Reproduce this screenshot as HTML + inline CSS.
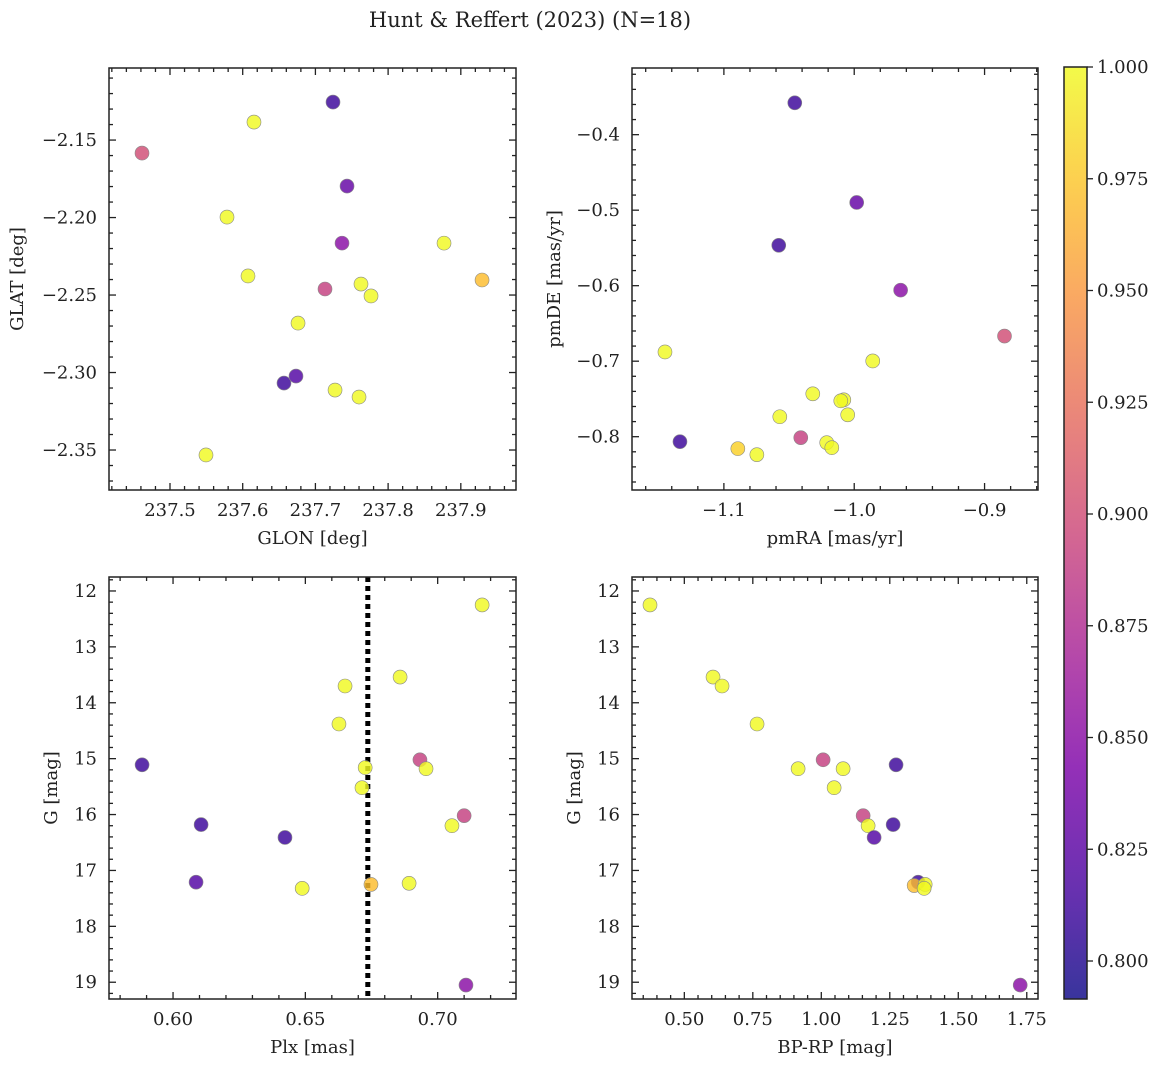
<!DOCTYPE html>
<html><head><meta charset="utf-8"><style>
body{margin:0;background:#fff;}
svg text{font-family:"DejaVu Serif","Liberation Serif",serif;fill:#222;}
</style></head><body>
<svg id="fig" width="1161" height="1067" xmlns="http://www.w3.org/2000/svg">
<text x="530" y="27" font-size="21" text-anchor="middle">Hunt &amp; Reffert (2023) (N=18)</text>
</svg>
<script>
// Panel data
const glon = [237.4615,237.6155,237.7242,237.5784,237.7435,237.7366,237.6073,237.7132,237.7627,237.7765,237.8769,237.9292,237.6761,237.6568,237.6733,237.7270,237.7600,237.5495];
const glat = [-2.1584,-2.1384,-2.1255,-2.1997,-2.1797,-2.2165,-2.2377,-2.2461,-2.2429,-2.2506,-2.2165,-2.2403,-2.2681,-2.3068,-2.3023,-2.3113,-2.3158,-2.3532];
const probA = [0.90,1.0,0.81,1.0,0.83,0.85,1.0,0.89,1.0,1.0,1.0,0.97,1.0,0.81,0.82,1.0,1.0,1.0];

const pmra = [-1.0456,-0.9981,-1.0579,-0.9644,-0.8847,-1.1452,-0.9858,-1.0318,-1.0080,-1.0103,-1.0050,-1.0571,-1.0410,-1.0211,-1.0172,-1.1337,-1.0893,-1.0747];
const pmde = [-0.3578,-0.4898,-0.5465,-0.6059,-0.6667,-0.6878,-0.6997,-0.7432,-0.7512,-0.7525,-0.7710,-0.7736,-0.8013,-0.8079,-0.8145,-0.8066,-0.8158,-0.8238];
const probB = [0.81,0.83,0.81,0.85,0.90,1.0,1.0,1.0,1.0,1.0,1.0,1.0,0.89,1.0,1.0,0.81,0.98,1.0];

const plx = [0.7168,0.6858,0.6650,0.6627,0.5883,0.6933,0.6726,0.6956,0.6714,0.7100,0.7054,0.6106,0.6423,0.6087,0.6488,0.6748,0.6892,0.7107];
const gmagC = [12.25,13.54,13.70,14.38,15.11,15.02,15.16,15.18,15.52,16.02,16.20,16.18,16.41,17.21,17.32,17.25,17.23,19.05];
const probC = [1.0,1.0,1.0,1.0,0.81,0.89,1.0,1.0,1.0,0.89,1.0,0.81,0.81,0.82,1.0,0.97,1.0,0.85];
const plxRef = [0.6736];

const bprp = [0.3747,0.6048,0.6377,0.7655,1.2729,1.0066,0.9153,1.0796,1.0468,1.1527,1.1709,1.2622,1.1928,1.3535,1.3389,1.3791,1.3754,1.7260];
const gmagD = [12.25,13.54,13.70,14.38,15.11,15.02,15.18,15.18,15.52,16.02,16.20,16.18,16.41,17.21,17.27,17.25,17.32,19.05];
const probD = [1.0,1.0,1.0,1.0,0.81,0.89,1.0,1.0,1.0,0.89,1.0,0.81,0.82,0.81,0.97,1.0,1.0,0.85];

const cbTicks = [0.800,0.825,0.850,0.875,0.900,0.925,0.950,0.975,1.000];
const VMIN=0.7915, VMAX=1.0;

const NS="http://www.w3.org/2000/svg";
const svg=document.getElementById('fig');
function el(tag,attrs,parent){const e=document.createElementNS(NS,tag);for(const k in attrs)e.setAttribute(k,attrs[k]);(parent||svg).appendChild(e);return e;}

const stops=[[0,[13,8,135]],[0.125,[75,3,161]],[0.25,[125,3,168]],[0.375,[168,34,150]],[0.5,[203,70,121]],[0.625,[229,107,93]],[0.75,[248,148,65]],[0.875,[253,195,40]],[1,[240,249,33]]];
function plasma(t){t=Math.max(0,Math.min(1,t));for(let i=1;i<stops.length;i++){if(t<=stops[i][0]){const a=stops[i-1],b=stops[i];const f=(t-a[0])/(b[0]-a[0]);const c=a[1].map((v,j)=>Math.round(v+(b[1][j]-v)*f));return `rgb(${c[0]},${c[1]},${c[2]})`;}}return 'rgb(240,249,33)';}

function fmt(v,d){let s=v.toFixed(d);if(s.startsWith('-0')&&Number(s)===0)s=s.slice(1);return s.replace('-','\u2212');}

function panel(o){
  const g=el('g',{});
  
  
  const sx=v=>o.x0+(v-o.xmin)/(o.xmax-o.xmin)*(o.x1-o.x0);
  const sy=v=>o.y1-(v-o.ymin)/(o.ymax-o.ymin)*(o.y1-o.y0);
  const tk=el('g',{stroke:'#222','stroke-width':1.3},g);
  
  
  const eps=1e-9;
  const xlo=Math.min(o.xmin,o.xmax),xhi=Math.max(o.xmin,o.xmax);
  const ylo=Math.min(o.ymin,o.ymax),yhi=Math.max(o.ymin,o.ymax);
  for(let k=Math.ceil(xlo/o.xminor-eps);k*o.xminor<=xhi+eps;k++){
    const v=k*o.xminor;
    const X=sx(v);const maj=Math.abs(v/o.xmajor-Math.round(v/o.xmajor))<1e-6;const L=maj?7:4;
    el('line',{x1:X,x2:X,y1:o.y1,y2:o.y1-L},tk);el('line',{x1:X,x2:X,y1:o.y0,y2:o.y0+L},tk);
    if(maj){const t=el('text',{x:X,y:o.y1+26,'font-size':18,'text-anchor':'middle'},g);t.textContent=fmt(v,o.xd);
      }
  }
  for(let k=Math.ceil(ylo/o.yminor-eps);k*o.yminor<=yhi+eps;k++){
    const v=k*o.yminor;
    const Y=sy(v);const maj=Math.abs(v/o.ymajor-Math.round(v/o.ymajor))<1e-6;const L=maj?7:4;
    el('line',{y1:Y,y2:Y,x1:o.x0,x2:o.x0+L},tk);el('line',{y1:Y,y2:Y,x1:o.x1,x2:o.x1-L},tk);
    if(maj){const t=el('text',{x:o.x0-12,y:Y+6,'font-size':18,'text-anchor':'end'},g);t.textContent=fmt(v,o.yd);
      }
  }
  if(o.vline){const l=el('line',{x1:sx(o.vline[0]),x2:sx(o.vline[0]),y1:o.y0,y2:o.y1,stroke:'#000','stroke-width':5,'stroke-dasharray':'5,4'},g);
    }
  for(let i=0;i<o.xs.length;i++){
    const c=el('circle',{cx:sx(o.xs[i]),cy:sy(o.ys[i]),r:7,fill:plasma((o.cs[i]-VMIN)/(VMAX-VMIN)),'fill-opacity':0.82,stroke:'#888','stroke-width':0.6},g);
    
    
  }
  const fr=el('rect',{x:o.x0,y:o.y0,width:o.x1-o.x0,height:o.y1-o.y0,fill:'none',stroke:'#222','stroke-width':1.5},g);
  
  const xl=el('text',{x:(o.x0+o.x1)/2,y:o.y1+54,'font-size':18,'text-anchor':'middle'},g);xl.textContent=o.xlabel;
  
  const yl=el('text',{x:0,y:0,'font-size':18,'text-anchor':'middle',transform:`translate(${o.ylx},${(o.y0+o.y1)/2}) rotate(-90)`},g);yl.textContent=o.ylabel;
  
}

panel({name:'glon-glat-panel',x0:109,x1:516,y0:68,y1:490,xmin:237.4161,xmax:237.9759,ymin:-2.3758,ymax:-2.1035,xmajor:0.1,xminor:0.02,ymajor:0.05,yminor:0.01,xd:1,yd:2,xs:glon,ys:glat,cs:probA,xlabel:'GLON [deg]',ylabel:'GLAT [deg]',ylx:23});
panel({name:'proper-motion-panel',x0:632,x1:1038,y0:68,y1:490,xmin:-1.1705,xmax:-0.859,ymin:-0.8706,ymax:-0.3117,xmajor:0.1,xminor:0.02,ymajor:0.1,yminor:0.02,xd:1,yd:1,xs:pmra,ys:pmde,cs:probB,xlabel:'pmRA [mas/yr]',ylabel:'pmDE [mas/yr]',ylx:560});
panel({name:'parallax-mag-panel',x0:109,x1:516,y0:577,y1:999,xmin:0.5758,xmax:0.7296,ymin:19.30,ymax:11.75,xmajor:0.05,xminor:0.01,ymajor:1,yminor:0.2,xd:2,yd:0,xs:plx,ys:gmagC,cs:probC,vline:plxRef,xlabel:'Plx [mas]',ylabel:'G [mag]',ylx:57});
panel({name:'cmd-panel',x0:632,x1:1038,y0:577,y1:999,xmin:0.309,xmax:1.791,ymin:19.30,ymax:11.75,xmajor:0.25,xminor:0.05,ymajor:1,yminor:0.2,xd:2,yd:0,xs:bprp,ys:gmagD,cs:probD,xlabel:'BP-RP [mag]',ylabel:'G [mag]',ylx:580});

// colorbar
const defs=el('defs',{});
const gr=el('linearGradient',{id:'cbg',x1:0,y1:1,x2:0,y2:0},defs);
for(let i=0;i<=20;i++){el('stop',{offset:i/20,'stop-color':plasma(i/20)},gr);}
const cb=el('g',{});


el('rect',{x:1064,y:67,width:23,height:932,fill:'url(#cbg)','fill-opacity':0.82},cb);
el('rect',{x:1064,y:67,width:23,height:932,fill:'none',stroke:'#222','stroke-width':1.5},cb);
const cy=v=>999-(v-VMIN)/(VMAX-VMIN)*932;
for(const v of cbTicks){
  const Y=cy(v);
  el('line',{x1:1087,x2:1093,y1:Y,y2:Y,stroke:'#222','stroke-width':1.3},cb);
  const t=el('text',{x:1097,y:Y+6,'font-size':18},cb);t.textContent=v.toFixed(3);
  
  
}
</script>
</body></html>
